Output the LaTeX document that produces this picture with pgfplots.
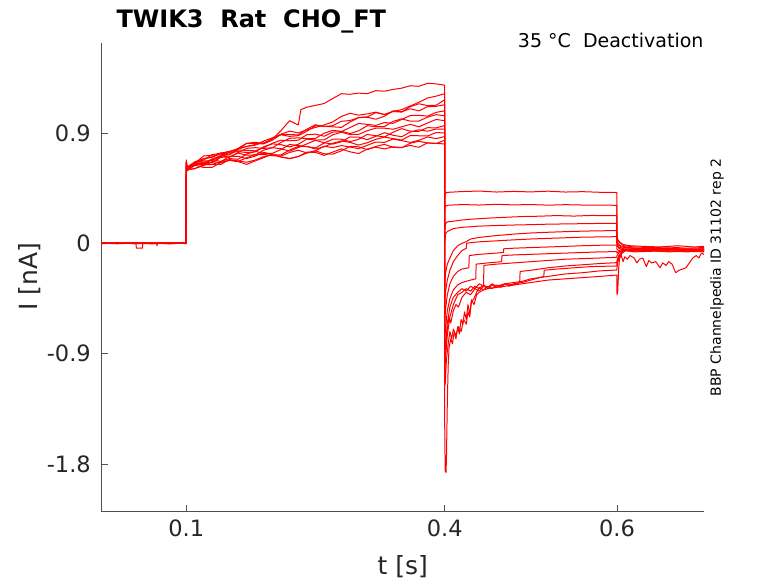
\documentclass[border=0pt]{standalone}
\usepackage{fontspec}
\setmainfont{DejaVu Sans}
\usepackage{pgfplots}
\pgfplotsset{compat=1.18}
\definecolor{axgray}{RGB}{38,38,38}
\definecolor{axline}{RGB}{80,80,80}
\pgfplotsset{tr/.style={draw=red, line width=1pt, mark=none, line join=round}}
\begin{document}
\begin{tikzpicture}[x=1pt,y=1pt]
\path[use as bounding box] (0,0) rectangle (778,583);
\begin{axis}[
  at={(101.3pt,71.3pt)}, anchor=south west,
  scale only axis, width=602.7pt, height=469pt,
  xmin=0.0013, xmax=0.701, ymin=-2.189, ymax=1.636,
  axis lines*=left,
  axis line style={draw=axline, line width=0.8pt, -},
  tick align=inside, major tick length=7pt,
  tick style={draw=axline, line width=0.8pt},
  xtick={0.1,0.4,0.6}, xticklabels={0.1,0.4,0.6},
  ytick={-1.8,-0.9,0,0.9}, yticklabels={-1.8,-0.9,0,0.9},
  tick label style={font=\fontsize{22.5}{27}\selectfont, text=axgray},
  yticklabel style={xshift=-7pt},
  xticklabel style={yshift=-5pt},
]
% trace 1
\addplot[tr] coordinates {(0.0013,0.003) (0.02,-0.002) (0.04,0.002) (0.06,-0.003) (0.08,0.002) (0.0995,0.0)
(0.1,0.66) (0.1008,0.612)
(0.11,.635) (0.12,.662) (0.13,.657) (0.14,.701) (0.15,.704) (0.16,.736) (0.17,.718) (0.18,.719) (0.19,.760) (0.20,.780) (0.21,.771) (0.22,.751) (0.23,.781) (0.24,.811) (0.25,.840) (0.26,.820) (0.27,.809) (0.28,.828) (0.29,.867) (0.30,.866) (0.31,.845) (0.32,.873) (0.33,.902) (0.34,.881) (0.35,.869) (0.36,.907) (0.37,.926) (0.38,.914) (0.39,.932) (0.3998,.93)
(0.4,0.38) (0.4005,0.40) (0.402,0.415) (0.42,0.422) (0.44,0.426) (0.46,0.418) (0.48,0.423) (0.50,0.419) (0.52,0.425) (0.54,0.418) (0.56,0.421) (0.58,0.416) (0.5998,0.414)
(0.6,0.05) (0.601,0.03) (0.603,0.01) (0.607,-0.01) (0.615,-0.02) (0.63,-0.025) (0.65,-0.03) (0.67,-0.02) (0.69,-0.03) (0.701,-0.025)};
% trace 2
\addplot[tr] coordinates {(0.0013,-0.002) (0.02,0.003) (0.04,-0.002) (0.06,0.002) (0.08,-0.003) (0.0995,0.001)
(0.1,0.65) (0.1008,0.618)
(0.11,.654) (0.12,.656) (0.13,.687) (0.14,.715) (0.15,.702) (0.16,.739) (0.17,.774) (0.18,.780) (0.19,.774) (0.20,.779) (0.21,.823) (0.22,.856) (0.23,.860) (0.24,.853) (0.25,.856) (0.26,.898) (0.27,.921) (0.28,.913) (0.29,.895) (0.30,.917) (0.31,.959) (0.32,.951) (0.33,.952) (0.34,.994) (0.35,1.015) (0.36,.996) (0.37,.997) (0.38,1.029) (0.39,1.049) (0.3998,1.04)
(0.4,0.27) (0.4005,0.30) (0.403,0.31) (0.42,0.316) (0.44,0.312) (0.46,0.318) (0.48,0.313) (0.50,0.316) (0.52,0.311) (0.54,0.315) (0.56,0.312) (0.58,0.311) (0.5998,0.31)
(0.6,0.04) (0.601,0.02) (0.604,0.0) (0.608,-0.02) (0.62,-0.03) (0.64,-0.035) (0.66,-0.03) (0.68,-0.04) (0.701,-0.035)};
% trace 3
\addplot[tr] coordinates {(0.0013,0.001) (0.02,0.002) (0.04,-0.003) (0.06,0.001) (0.08,0.003) (0.0995,-0.002)
(0.1,0.64) (0.1008,0.60)
(0.11,.610) (0.12,.634) (0.13,.666) (0.14,.657) (0.15,.678) (0.16,.668) (0.17,.697) (0.18,.726) (0.19,.725) (0.20,.714) (0.21,.712) (0.22,.741) (0.23,.759) (0.24,.737) (0.25,.755) (0.26,.792) (0.27,.780) (0.28,.797) (0.29,.785) (0.30,.772) (0.31,.799) (0.32,.826) (0.33,.823) (0.34,.850) (0.35,.837) (0.36,.823) (0.37,.840) (0.38,.867) (0.39,.854) (0.3998,.87)
(0.4,0.12) (0.401,0.16) (0.403,0.175) (0.41,0.18) (0.42,0.19) (0.43,0.196) (0.45,0.205) (0.47,0.212) (0.49,0.218) (0.51,0.221) (0.53,0.226) (0.55,0.222) (0.57,0.227) (0.5998,0.225)
(0.6,0.02) (0.601,0.0) (0.604,-0.02) (0.61,-0.03) (0.62,-0.04) (0.64,-0.045) (0.66,-0.04) (0.68,-0.05) (0.701,-0.045)};
% trace 4
\addplot[tr] coordinates {(0.0013,0.002) (0.02,-0.001) (0.04,0.003) (0.06,-0.002) (0.08,0.0) (0.0995,0.002)
(0.1,0.67) (0.1008,0.615)
(0.11,.661) (0.12,.678) (0.13,.723) (0.14,.735) (0.15,.726) (0.16,.765) (0.17,.815) (0.18,.813) (0.19,.811) (0.20,.858) (0.21,.885) (0.22,.872) (0.23,.878) (0.24,.914) (0.25,.959) (0.26,.954) (0.27,.950) (0.28,.945) (0.29,.989) (0.30,1.024) (0.31,1.028) (0.32,1.012) (0.33,1.036) (0.34,1.080) (0.35,1.073) (0.36,1.097) (0.37,1.080) (0.38,1.114) (0.39,1.117) (0.3998,1.13)
(0.4,0.0) (0.401,0.08) (0.403,0.095) (0.41,0.12) (0.42,0.13) (0.44,0.14) (0.46,0.145) (0.48,0.149) (0.50,0.152) (0.52,0.156) (0.54,0.158) (0.56,0.16) (0.58,0.162) (0.5998,0.163)
(0.6,0.01) (0.601,-0.01) (0.605,-0.03) (0.61,-0.035) (0.62,-0.04) (0.64,-0.05) (0.66,-0.045) (0.68,-0.055) (0.701,-0.05)};
% trace 5
\addplot[tr] coordinates {(0.0013,-0.001) (0.02,0.002) (0.04,0.0) (0.06,0.003) (0.08,-0.002) (0.0995,0.0)
(0.1,0.64) (0.1008,0.60)
(0.11,.643) (0.12,.649) (0.13,.643) (0.14,.666) (0.15,.708) (0.16,.710) (0.17,.691) (0.18,.711) (0.19,.742) (0.20,.722) (0.21,.721) (0.22,.761) (0.23,.790) (0.24,.790) (0.25,.769) (0.26,.787) (0.27,.816) (0.28,.835) (0.29,.823) (0.30,.801) (0.31,.820) (0.32,.848) (0.33,.866) (0.34,.854) (0.35,.842) (0.36,.879) (0.37,.877) (0.38,.875) (0.39,.903) (0.3998,.90)
(0.4,-0.35) (0.4008,-0.25) (0.403,-0.17) (0.406,-0.12) (0.41,-0.06) (0.415,-0.02) (0.42,0.0) (0.425,0.013) (0.43,0.035) (0.44,0.048) (0.46,0.063) (0.48,0.075) (0.50,0.084) (0.52,0.09) (0.54,0.095) (0.56,0.099) (0.58,0.102) (0.5998,0.103)
(0.6,-0.01) (0.602,-0.03) (0.606,-0.04) (0.61,-0.05) (0.62,-0.045) (0.64,-0.055) (0.66,-0.05) (0.68,-0.06) (0.701,-0.055)};
% trace 6
\addplot[tr] coordinates {(0.0013,0.0) (0.02,-0.003) (0.04,0.001) (0.06,0.002) (0.08,-0.001) (0.0995,0.003)
(0.1,0.66) (0.1008,0.62)
(0.11,.665) (0.12,.690) (0.13,.705) (0.14,.735) (0.15,.750) (0.16,.770) (0.17,.790) (0.18,.800) (0.19,.835) (0.20,.860) (0.21,.890) (0.22,.915) (0.23,.900) (0.24,.925) (0.25,.945) (0.26,.965) (0.27,.990) (0.28,1.035) (0.29,1.060) (0.30,1.045) (0.31,1.055) (0.32,1.070) (0.33,1.050) (0.34,1.075) (0.35,1.090) (0.36,1.120) (0.37,1.150) (0.38,1.185) (0.39,1.200) (0.3998,1.22)
(0.4,-0.5) (0.4008,-0.4) (0.403,-0.3) (0.406,-0.22) (0.41,-0.15) (0.415,-0.1) (0.42,-0.06) (0.425,-0.04) (0.4255,0.0) (0.43,0.005) (0.44,0.012) (0.46,0.02) (0.48,0.028) (0.50,0.035) (0.52,0.04) (0.54,0.045) (0.56,0.05) (0.58,0.052) (0.5998,0.054)
(0.6,-0.02) (0.602,-0.04) (0.606,-0.05) (0.61,-0.06) (0.62,-0.055) (0.64,-0.06) (0.66,-0.065) (0.68,-0.06) (0.701,-0.07)};
% trace 7
\addplot[tr] coordinates {(0.0013,0.002) (0.02,0.0) (0.04,-0.002) (0.06,0.001) (0.08,0.003) (0.0995,-0.001)
(0.1,0.65) (0.1008,0.61)
(0.11,.637) (0.12,.646) (0.13,.682) (0.14,.667) (0.15,.691) (0.16,.685) (0.17,.728) (0.18,.750) (0.19,.732) (0.20,.734) (0.21,.765) (0.22,.806) (0.23,.797) (0.24,.788) (0.25,.778) (0.26,.818) (0.27,.849) (0.28,.849) (0.29,.829) (0.30,.848) (0.31,.888) (0.32,.877) (0.33,.867) (0.34,.906) (0.35,.935) (0.36,.914) (0.37,.913) (0.38,.943) (0.39,.941) (0.3998,.96)
(0.4,-0.65) (0.4008,-0.55) (0.403,-0.42) (0.406,-0.33) (0.41,-0.27) (0.415,-0.23) (0.42,-0.21) (0.428,-0.20) (0.4285,-0.1) (0.44,-0.09) (0.46,-0.08) (0.468,-0.075) (0.4685,-0.045) (0.48,-0.04) (0.50,-0.035) (0.52,-0.03) (0.54,-0.025) (0.56,-0.02) (0.58,-0.016) (0.5998,-0.014)
(0.6,-0.05) (0.602,-0.06) (0.606,-0.05) (0.61,-0.045) (0.62,-0.05) (0.64,-0.04) (0.66,-0.05) (0.68,-0.045) (0.701,-0.05)};
% trace 8
\addplot[tr] coordinates {(0.0013,0.0) (0.02,0.002) (0.0415,0.0) (0.042,-0.04) (0.049,-0.04) (0.0495,-0.002) (0.0655,0.0) (0.066,-0.02) (0.0665,0.0) (0.08,0.002) (0.0995,0.0)
(0.1,0.67) (0.1008,0.62)
(0.11,.660) (0.12,.690) (0.13,.700) (0.14,.735) (0.15,.745) (0.16,.770) (0.17,.790) (0.18,.805) (0.19,.820) (0.20,.850) (0.21,.920) (0.22,1.000) (0.23,.965) (0.233,1.09) (0.24,1.110) (0.25,1.125) (0.26,1.140) (0.27,1.180) (0.28,1.220) (0.29,1.215) (0.30,1.225) (0.31,1.220) (0.32,1.245) (0.33,1.240) (0.34,1.255) (0.35,1.265) (0.36,1.285) (0.37,1.280) (0.38,1.305) (0.39,1.300) (0.3998,1.29)
(0.4,-0.8) (0.4008,-0.7) (0.403,-0.55) (0.406,-0.45) (0.41,-0.38) (0.415,-0.34) (0.42,-0.32) (0.43,-0.30) (0.436,-0.29) (0.4365,-0.17) (0.45,-0.16) (0.466,-0.15) (0.4665,-0.1) (0.48,-0.095) (0.50,-0.09) (0.52,-0.085) (0.54,-0.08) (0.56,-0.075) (0.58,-0.07) (0.5998,-0.068)
(0.6,-0.08) (0.602,-0.07) (0.606,-0.06) (0.61,-0.05) (0.62,-0.045) (0.64,-0.05) (0.66,-0.04) (0.68,-0.05) (0.701,-0.045)};
% trace 9
\addplot[tr] coordinates {(0.0013,-0.003) (0.02,0.001) (0.04,0.003) (0.06,-0.001) (0.08,0.001) (0.0995,-0.002)
(0.1,0.63) (0.1008,0.60)
(0.11,.609) (0.12,.641) (0.13,.643) (0.14,.643) (0.15,.683) (0.16,.672) (0.17,.661) (0.18,.679) (0.19,.707) (0.20,.725) (0.21,.703) (0.22,.691) (0.23,.708) (0.24,.736) (0.25,.753) (0.26,.730) (0.27,.727) (0.28,.754) (0.29,.790) (0.30,.787) (0.31,.764) (0.32,.790) (0.33,.807) (0.34,.783) (0.35,.779) (0.36,.816) (0.37,.832) (0.38,.818) (0.39,.814) (0.3998,.84)
(0.4,-0.95) (0.4008,-0.85) (0.403,-0.65) (0.406,-0.52) (0.41,-0.44) (0.415,-0.40) (0.42,-0.37) (0.425,-0.39) (0.43,-0.35) (0.435,-0.37) (0.44,-0.33) (0.445,-0.35) (0.4455,-0.18) (0.46,-0.17) (0.48,-0.16) (0.50,-0.15) (0.52,-0.14) (0.54,-0.13) (0.56,-0.125) (0.58,-0.12) (0.5998,-0.114)
(0.6,-0.1) (0.602,-0.08) (0.606,-0.06) (0.61,-0.055) (0.62,-0.06) (0.64,-0.05) (0.66,-0.055) (0.68,-0.05) (0.701,-0.055)};
% trace 10
\addplot[tr] coordinates {(0.0013,0.001) (0.02,-0.002) (0.04,0.002) (0.06,0.0) (0.08,-0.003) (0.0995,0.001)
(0.1,0.66) (0.1008,0.61)
(0.11,.657) (0.12,.672) (0.13,.674) (0.14,.714) (0.15,.723) (0.16,.761) (0.17,.758) (0.18,.754) (0.19,.780) (0.20,.816) (0.21,.841) (0.22,.836) (0.23,.841) (0.24,.886) (0.25,.890) (0.26,.873) (0.27,.907) (0.28,.911) (0.29,.944) (0.30,.977) (0.31,.970) (0.32,.962) (0.33,.985) (0.34,.978) (0.35,1.010) (0.36,1.042) (0.37,1.044) (0.38,1.037) (0.39,1.068) (0.3998,1.08)
(0.4,-1.05) (0.4008,-0.95) (0.403,-0.75) (0.406,-0.6) (0.41,-0.5) (0.415,-0.42) (0.42,-0.40) (0.425,-0.37) (0.43,-0.39) (0.435,-0.35) (0.44,-0.37) (0.445,-0.34) (0.45,-0.36) (0.455,-0.33) (0.46,-0.35) (0.47,-0.33) (0.48,-0.34) (0.487,-0.32) (0.4875,-0.23) (0.50,-0.22) (0.52,-0.20) (0.54,-0.185) (0.56,-0.175) (0.58,-0.165) (0.5998,-0.158)
(0.6,-0.14) (0.602,-0.1) (0.606,-0.07) (0.61,-0.06) (0.62,-0.065) (0.64,-0.06) (0.66,-0.07) (0.68,-0.065) (0.701,-0.06)};
% trace 11
\addplot[tr] coordinates {(0.0013,0.0) (0.02,0.003) (0.04,-0.001) (0.06,-0.003) (0.08,0.002) (0.0995,0.0)
(0.1,0.62) (0.1008,0.59)
(0.11,.637) (0.12,.619) (0.13,.619) (0.14,.659) (0.15,.677) (0.16,.666) (0.17,.644) (0.18,.672) (0.19,.699) (0.20,.727) (0.21,.704) (0.22,.691) (0.23,.707) (0.24,.744) (0.25,.741) (0.26,.717) (0.27,.744) (0.28,.770) (0.29,.746) (0.30,.732) (0.31,.768) (0.32,.784) (0.33,.770) (0.34,.786) (0.35,.782) (0.36,.798) (0.37,.783) (0.38,.819) (0.39,.815) (0.3998,.81)
(0.4,-1.16) (0.4006,-1.14) (0.402,-0.95) (0.404,-0.82) (0.406,-0.72) (0.408,-0.78) (0.41,-0.70) (0.413,-0.75) (0.416,-0.68) (0.419,-0.72) (0.422,-0.62) (0.425,-0.66) (0.427,-0.56) (0.429,-0.60) (0.431,-0.48) (0.434,-0.45) (0.437,-0.40) (0.44,-0.36) (0.445,-0.38) (0.45,-0.35) (0.455,-0.37) (0.46,-0.34) (0.465,-0.36) (0.47,-0.33) (0.475,-0.35) (0.48,-0.33) (0.49,-0.32) (0.50,-0.30) (0.51,-0.28) (0.515,-0.27) (0.5155,-0.22) (0.53,-0.21) (0.55,-0.20) (0.57,-0.19) (0.5998,-0.185)
(0.6,-0.16) (0.602,-0.12) (0.606,-0.08) (0.61,-0.06) (0.62,-0.07) (0.64,-0.065) (0.66,-0.06) (0.68,-0.07) (0.701,-0.065)};
% trace 12
\addplot[tr] coordinates {(0.0013,0.002) (0.02,0.0) (0.04,0.002) (0.06,-0.002) (0.08,0.001) (0.0995,-0.001)
(0.1,0.65) (0.1008,0.61)
(0.11,.650) (0.12,.651) (0.13,.659) (0.14,.706) (0.15,.742) (0.16,.747) (0.17,.741) (0.18,.745) (0.19,.788) (0.20,.811) (0.21,.804) (0.22,.786) (0.23,.808) (0.24,.850) (0.25,.842) (0.26,.843) (0.27,.885) (0.28,.906) (0.29,.887) (0.30,.888) (0.31,.918) (0.32,.939) (0.33,.939) (0.34,.930) (0.35,.950) (0.36,.970) (0.37,.950) (0.38,.981) (0.39,1.010) (0.3998,1.00)
(0.4,-0.9) (0.401,-0.85) (0.403,-0.7) (0.405,-0.6) (0.407,-0.65) (0.41,-0.55) (0.413,-0.5) (0.416,-0.52) (0.42,-0.44) (0.425,-0.40) (0.43,-0.42) (0.435,-0.37) (0.44,-0.39) (0.445,-0.35) (0.45,-0.37) (0.455,-0.34) (0.46,-0.36) (0.47,-0.33) (0.48,-0.32) (0.49,-0.31) (0.50,-0.29) (0.52,-0.27) (0.54,-0.25) (0.56,-0.24) (0.58,-0.225) (0.5998,-0.218)
(0.6,-0.2) (0.601,-0.15) (0.603,-0.1) (0.606,-0.07) (0.61,-0.06) (0.62,-0.05) (0.64,-0.06) (0.66,-0.05) (0.68,-0.06) (0.701,-0.05)};
% trace 13
\addplot[tr] coordinates {(0.0013,-0.001) (0.02,0.002) (0.04,0.0) (0.06,0.002) (0.08,-0.002) (0.0995,0.002)
(0.1,0.68) (0.1008,0.62)
(0.11,.653) (0.12,.712) (0.13,.718) (0.14,.722) (0.15,.724) (0.16,.774) (0.17,.815) (0.18,.824) (0.19,.813) (0.20,.841) (0.21,.889) (0.22,.887) (0.23,.884) (0.24,.931) (0.25,.967) (0.26,.953) (0.27,.959) (0.28,.995) (0.29,1.001) (0.30,1.026) (0.31,1.031) (0.32,1.066) (0.33,1.050) (0.34,1.075) (0.35,1.070) (0.36,1.114) (0.37,1.138) (0.38,1.123) (0.39,1.126) (0.3998,1.17)
(0.4,-1.5) (0.4005,-1.86) (0.401,-1.80) (0.4015,-1.87) (0.402,-1.75) (0.403,-1.3) (0.404,-1.0) (0.405,-0.85) (0.407,-0.78) (0.409,-0.82) (0.411,-0.72) (0.413,-0.78) (0.415,-0.68) (0.417,-0.74) (0.419,-0.62) (0.421,-0.66) (0.423,-0.56) (0.425,-0.62) (0.427,-0.5) (0.429,-0.58) (0.431,-0.46) (0.434,-0.5) (0.437,-0.42) (0.44,-0.40) (0.445,-0.38) (0.45,-0.37) (0.46,-0.36) (0.47,-0.35) (0.48,-0.34) (0.49,-0.33) (0.50,-0.32) (0.52,-0.30) (0.54,-0.29) (0.56,-0.28) (0.58,-0.27) (0.5998,-0.259)
(0.6,-0.42) (0.6008,-0.40) (0.602,-0.2) (0.603,-0.12) (0.605,-0.1) (0.607,-0.15) (0.609,-0.11) (0.612,-0.13) (0.615,-0.10) (0.62,-0.12) (0.623,-0.16) (0.626,-0.13) (0.63,-0.12) (0.634,-0.19) (0.637,-0.14) (0.64,-0.16) (0.645,-0.15) (0.65,-0.20) (0.653,-0.16) (0.657,-0.18) (0.66,-0.15) (0.664,-0.17) (0.668,-0.24) (0.672,-0.22) (0.676,-0.21) (0.68,-0.2) (0.684,-0.16) (0.688,-0.12) (0.692,-0.1) (0.695,-0.12) (0.698,-0.08) (0.701,-0.09)};
\end{axis}
\node[anchor=base west, font=\fontsize{24}{28}\selectfont\bfseries] at (113,555) {TWIK3\ \ Rat\ \ CHO\_FT};
\node[anchor=base east, font=\fontsize{19}{23}\selectfont] at (707,535) {35 °C\ \ Deactivation};
\node[rotate=90, font=\fontsize{14}{17}\selectfont] at (717,305.5) {BBP Channelpedia ID 31102 rep 2};
\node[rotate=90, font=\fontsize{25}{30}\selectfont, text=axgray] at (30,306) {I [nA]};
\node[font=\fontsize{25}{30}\selectfont, text=axgray] at (402.7,16) {t [s]};
\end{tikzpicture}
\end{document}
